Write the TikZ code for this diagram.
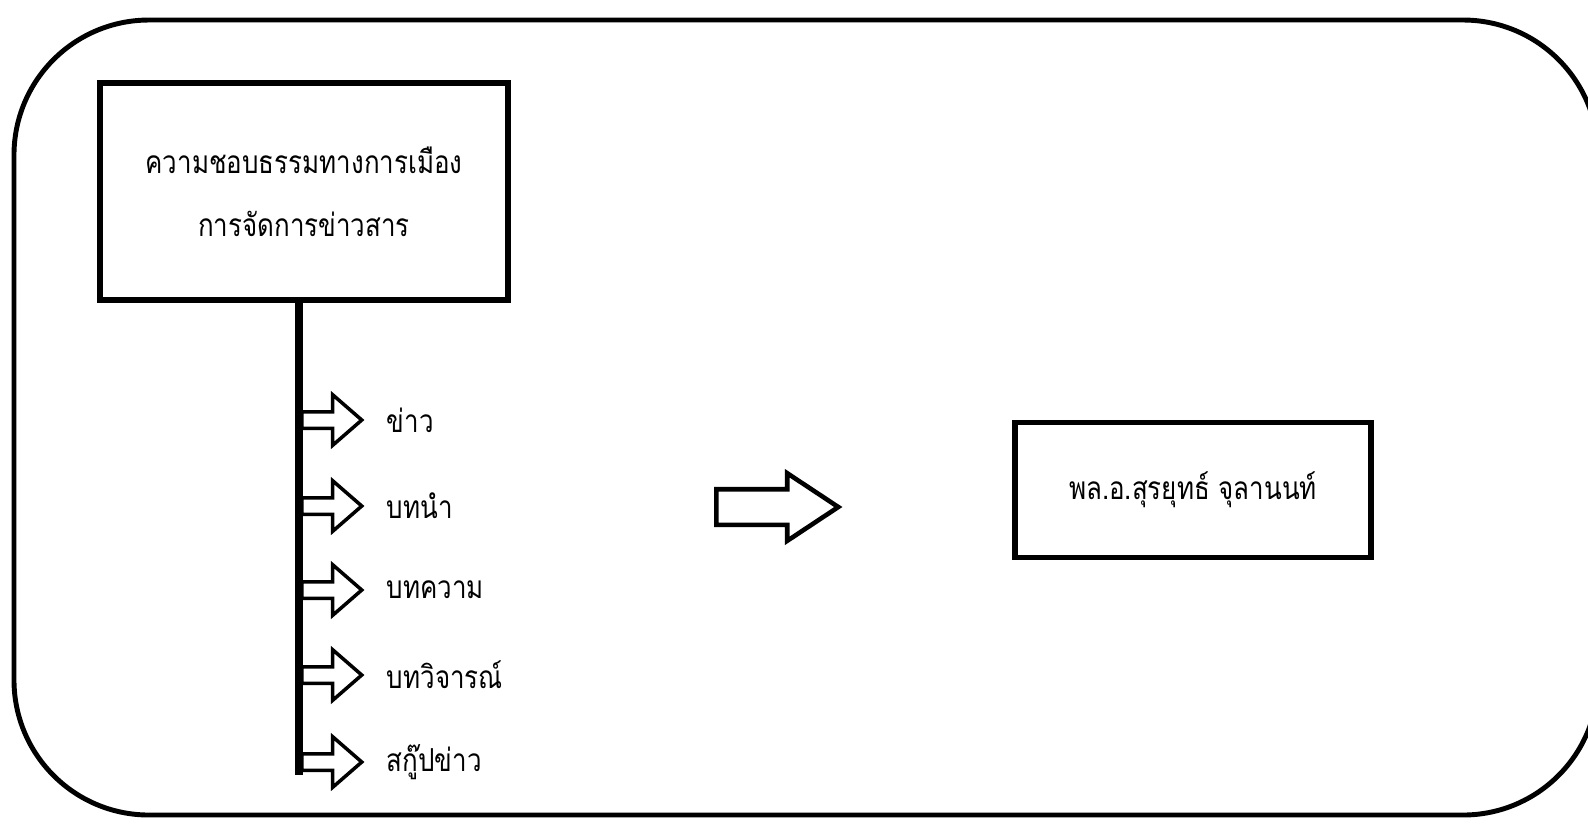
\documentclass[tikz,border=0pt]{standalone}
\usepackage{fontspec}
\newfontfamily\thaifont[Script=Thai,FakeStretch=0.82]{Loma}
\usepackage{tikz}
\usetikzlibrary{positioning,shapes.arrows}

\tikzset{
  caja/.style={draw, line width=1.5pt, align=center, font=\thaifont\fontsize{9}{18}\selectfont},
  flecha/.style={single arrow, draw, line width=1pt, inner xsep=0pt, inner ysep=0.065cm, anchor=west,
    minimum height=0.6cm, single arrow head extend=0.17cm, single arrow tip angle=82},
  etiq/.style={font=\thaifont\fontsize{9}{12}\selectfont, anchor=west},
}

\begin{document}
\begin{tikzpicture}

\useasboundingbox (0,0) rectangle (15.88,-8.27);
\draw[line width=1.4pt, rounded corners=1.35cm] (0.14,-0.20) rectangle (15.98,-8.15);

\node[caja, minimum width=4.08cm, minimum height=2.17cm] (tema) at (3.04,-1.915)
  {ความชอบธรรมทางการเมือง\\การจัดการข่าวสาร};
\coordinate (fin) at (2.99,-7.75);
\draw[line width=2pt] (tema.south -| fin) -- (fin);

\node[flecha] (f1) at (3.00,-4.20) {};
\node[flecha] (f2) at (3.00,-5.06) {};
\node[flecha] (f3) at (3.00,-5.90) {};
\node[flecha] (f4) at (3.00,-6.75) {};
\node[flecha] (f5) at (3.00,-7.62) {};
\node[etiq, right=0.1cm of f1] (e1) {ข่าว};
\node[etiq, right=0.1cm of f2] (e2) {บทนำ};
\node[etiq, right=0.1cm of f3] (e3) {บทความ};
\node[etiq, right=0.1cm of f4] (e4) {บทวิจารณ์};
\node[etiq, right=0.1cm of f5] (e5) {สกู๊ปข่าว};

\node[flecha, line width=1.3pt, minimum height=1.22cm, inner ysep=0.155cm,
  single arrow head extend=0.16cm, single arrow tip angle=67] (paso) at (7.14,-5.07) {};

\node[caja, minimum width=3.56cm, minimum height=1.35cm] (autor) at (11.93,-4.90)
  {พล.อ.สุรยุทธ์ จุลานนท์};

\end{tikzpicture}
\end{document}
